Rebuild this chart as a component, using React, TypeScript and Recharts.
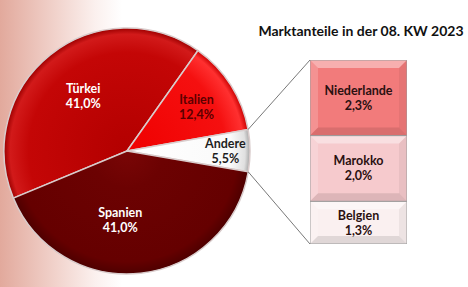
import { PieChart, Pie, Cell, BarChart, Bar, XAxis, YAxis, LabelList } from 'recharts';

// Marktanteile 08. KW 2023
const pieNames = ['Türkei', 'Italien', 'Andere', 'Spanien'];
const pieValues = [41.0, 12.4, 5.5, 41.0];

// Aufschlüsselung "Andere"
const otherNames = ['Niederlande', 'Marokko', 'Belgien'];
const otherValues = [2.3, 2.0, 1.3];

const TITLE = 'Marktanteile in der 08. KW 2023';

const pieData = pieNames.map((name, i) => ({ name, value: pieValues[i] }));
const barRow: Record<string, any> = { name: 'Andere' };
otherNames.forEach((n, i) => { barRow[n] = otherValues[i]; });
const barData = [barRow];

// layout
const W = 468;
const H = 287;
const CX = 127;
const CY = 151;
const R = 123;
const START = 202.5;
const BOX = { x: 310, y: 60, w: 97, h: 184 };

const FONT = 'Lato, "Open Sans", sans-serif';
const pieGrad = ['gTur', 'gIta', 'gAnd', 'gSpa'];
const labelFill = ['#ffffff', '#5c0000', '#1e1e1e', '#ffffff'];
const labelRad = [0.57, 0.67, 0.8, 0.56];
const labelTurn = [0, 0, 0, -12];
const barFill = ['#f27b7b', '#f6cacd', '#faf0f0'];

const fmt = (v: number) => v.toFixed(1).replace('.', ',') + '%';
const RAD = Math.PI / 180;

const total = pieValues.reduce((a, b) => a + b, 0);
// Winkel des Segments "Andere"
const angleOf = (idx: number) => {
  let a = START;
  for (let i = 0; i < idx; i++) a -= (pieValues[i] / total) * 360;
  return a;
};
const andereTop = angleOf(2);
const andereBottom = angleOf(3);

function renderPieLabel(props: any) {
  const { cx, cy, midAngle, outerRadius, index, name, value } = props;
  const r = outerRadius * labelRad[index];
  const a = midAngle + labelTurn[index];
  const x = cx + r * Math.cos(-a * RAD);
  const y = cy + r * Math.sin(-a * RAD);
  return (
    <text x={x} y={y} textAnchor="middle" fill={labelFill[index]} fontFamily={FONT} fontWeight={700} fontSize={12.5}>
      <tspan x={x} dy={-3}>{name}</tspan>
      <tspan x={x} dy={15}>{fmt(value)}</tspan>
    </text>
  );
}

function BevelBar(props: any) {
  const { x, y, width: w, height: h, fill } = props;
  const b = 8;
  return (
    <g>
      <rect x={x} y={y} width={w} height={h} fill={fill} />
      <polygon points={`${x},${y} ${x + w},${y} ${x + w - b},${y + b} ${x + b},${y + b}`} fill="#ffffff" fillOpacity={0.4} />
      <polygon points={`${x},${y} ${x + b},${y + b} ${x + b},${y + h - b} ${x},${y + h}`} fill="#ffffff" fillOpacity={0.18} />
      <polygon points={`${x + w},${y} ${x + w},${y + h} ${x + w - b},${y + h - b} ${x + w - b},${y + b}`} fill="#000000" fillOpacity={0.05} />
      <polygon points={`${x},${y + h} ${x + b},${y + h - b} ${x + w - b},${y + h - b} ${x + w},${y + h}`} fill="#000000" fillOpacity={0.1} />
      <rect x={x} y={y} width={w} height={h} fill="none" stroke="#9c9c9c" strokeWidth={1} />
    </g>
  );
}

function barLabel(name: string, value: number) {
  return (p: any) => {
    const x = p.x + p.width / 2;
    const y = p.y + p.height / 2;
    return (
      <text x={x} y={y} textAnchor="middle" fill="#2a1010" fontFamily={FONT} fontWeight={700} fontSize={12.5}>
        <tspan x={x} dy={-3}>{name}</tspan>
        <tspan x={x} dy={15}>{fmt(value)}</tspan>
      </text>
    );
  };
}

export default function App() {
  const p1 = { x: CX + R * Math.cos(andereTop * RAD), y: CY - R * Math.sin(andereTop * RAD) };
  const p2 = { x: CX + R * Math.cos(andereBottom * RAD), y: CY - R * Math.sin(andereBottom * RAD) };
  // Balken von unten nach oben stapeln
  const stackOrder = otherNames.map((n, i) => i).reverse();

  return (
    <div style={{ position: 'relative', width: W, height: H, overflow: 'hidden', background: 'linear-gradient(to right, #e2a99c 0px, #f1d2cb 55px, #fbf0ee 95px, #ffffff 122px)' }}>
      <style>{'body{margin:0}'}</style>
      <div style={{ position: 'absolute', left: 0, top: 0 }}>
        <PieChart width={W} height={H} margin={{ top: 0, right: 0, bottom: 0, left: 0 }}>
          <defs>
            <radialGradient id="gTur" cx={CX} cy={CY} r={R} gradientUnits="userSpaceOnUse">
              <stop offset="0" stopColor="#b30000" />
              <stop offset="0.8" stopColor="#c40606" />
              <stop offset="0.95" stopColor="#d21a1a" />
              <stop offset="1" stopColor="#9c0000" />
            </radialGradient>
            <radialGradient id="gIta" cx={CX} cy={CY} r={R} gradientUnits="userSpaceOnUse">
              <stop offset="0" stopColor="#f00000" />
              <stop offset="0.8" stopColor="#f51010" />
              <stop offset="0.95" stopColor="#ff3030" />
              <stop offset="1" stopColor="#c80000" />
            </radialGradient>
            <radialGradient id="gAnd" cx={CX} cy={CY} r={R} gradientUnits="userSpaceOnUse">
              <stop offset="0" stopColor="#ffffff" />
              <stop offset="0.85" stopColor="#fafafa" />
              <stop offset="0.96" stopColor="#e0e0e0" />
              <stop offset="1" stopColor="#a8a8a8" />
            </radialGradient>
            <radialGradient id="gSpa" cx={CX} cy={CY} r={R} gradientUnits="userSpaceOnUse">
              <stop offset="0" stopColor="#7a0606" />
              <stop offset="0.3" stopColor="#6c0202" />
              <stop offset="0.9" stopColor="#650000" />
              <stop offset="1" stopColor="#4e0000" />
            </radialGradient>
          </defs>
          <Pie
            data={pieData}
            dataKey="value"
            nameKey="name"
            cx={CX}
            cy={CY}
            outerRadius={R}
            startAngle={START}
            endAngle={START - 360}
            stroke="#d9cccc"
            strokeWidth={1.5}
            label={renderPieLabel}
            labelLine={false}
            isAnimationActive={false}
          >
            {pieData.map((d, i) => (
              <Cell key={d.name} fill={`url(#${pieGrad[i]})`} />
            ))}
          </Pie>
        </PieChart>
      </div>
      <div style={{ position: 'absolute', left: BOX.x, top: BOX.y }}>
        <BarChart width={BOX.w} height={BOX.h} data={barData} margin={{ top: 0, right: 0, bottom: 0, left: 0 }} barCategoryGap={0}>
          <XAxis dataKey="name" hide />
          <YAxis hide domain={[0, 'dataMax']} />
          {stackOrder.map((i) => (
            <Bar key={otherNames[i]} dataKey={otherNames[i]} stackId="a" fill={barFill[i]} shape={BevelBar} isAnimationActive={false}>
              <LabelList content={barLabel(otherNames[i], otherValues[i])} />
            </Bar>
          ))}
        </BarChart>
      </div>
      <svg width={W} height={H} style={{ position: 'absolute', left: 0, top: 0, pointerEvents: 'none' }}>
        <line x1={p1.x} y1={p1.y} x2={BOX.x} y2={BOX.y} stroke="#555555" strokeWidth={0.8} />
        <line x1={p2.x} y1={p2.y} x2={BOX.x} y2={BOX.y + BOX.h} stroke="#555555" strokeWidth={0.8} />
        <text x={361} y={36} textAnchor="middle" fontFamily={FONT} fontWeight={700} fontSize={14} fill="#111111">{TITLE}</text>
      </svg>
    </div>
  );
}
